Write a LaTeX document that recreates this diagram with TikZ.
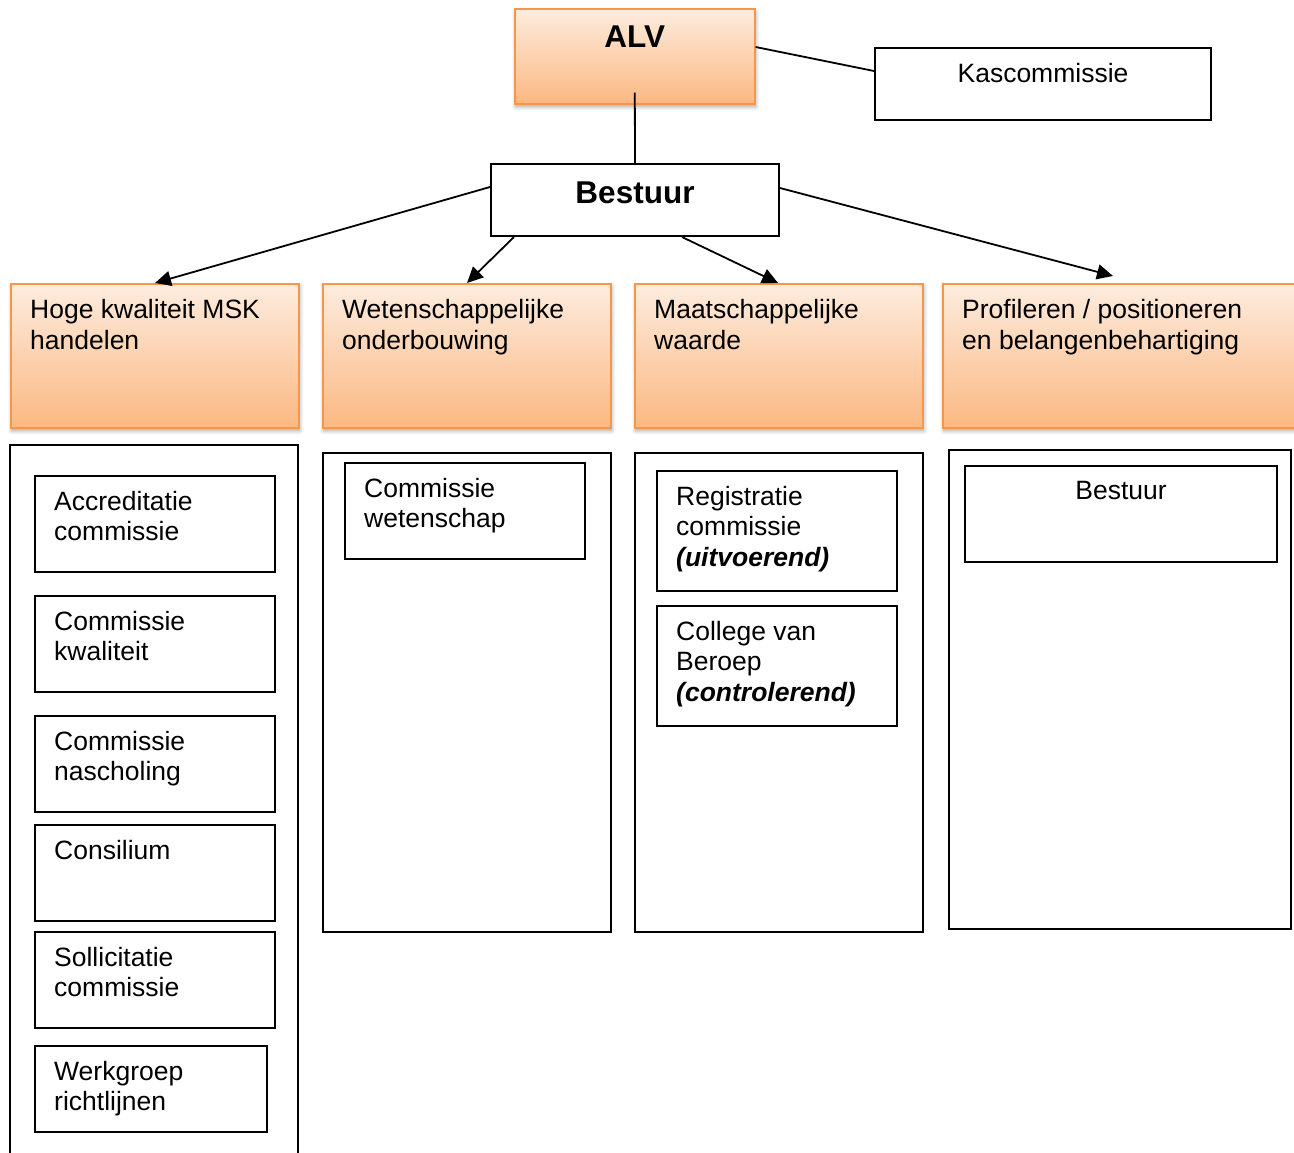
\documentclass[tikz,border=0pt]{standalone}
\usepackage{fontspec}
\setmainfont{Liberation Sans}
\usetikzlibrary{shadows,shadows.blur,calc,arrows.meta}
\definecolor{orTop}{RGB}{253,236,222}
\definecolor{orBot}{RGB}{251,184,130}
\definecolor{orLine}{RGB}{247,150,70}
\tikzset{
  x=1pt,y=-1pt,
  wbox/.style={draw=black,line width=2pt,fill=white,inner sep=0pt,anchor=north west},
  obox/.style={draw=orLine,line width=1.6pt,top color=orTop,bottom color=orBot,inner sep=0pt,anchor=north west,
     blur shadow={shadow xshift=1pt,shadow yshift=-3pt,shadow opacity=35,shadow blur radius=4pt,shadow blur steps=8}},
  txt/.style={font=\fontsize{26.5}{30.5}\selectfont,align=left,inner sep=0pt,anchor=north west},
  otxt/.style={txt,font=\fontsize{26.5}{31}\selectfont},
  ctxt/.style={font=\fontsize{26.5}{30.5}\selectfont,align=center,inner sep=0pt,anchor=north},
  btxt/.style={font=\fontsize{31.5}{36}\selectfont\bfseries,inner sep=0pt,anchor=north},
  conn/.style={line width=1.8pt},
  arr/.style={line width=1.8pt,-{Triangle[length=16pt,width=15pt]}}
}
\begin{document}
\begin{tikzpicture}
\useasboundingbox (0,0) rectangle (1294,1153);
% top level
\node[obox,minimum width=240,minimum height=95] (alv) at (514,8) {};
\node[btxt] (alvt) at ($(alv.north)+(0,18)$) {ALV};
\node[wbox,minimum width=336,minimum height=72] (kas) at (874,47) {};
\node[ctxt] (kast) at ($(kas.north)+(0,16)$) {Kascommissie};
\node[wbox,minimum width=288,minimum height=72] (best) at (490,163) {};
\node[btxt] (bestt) at ($(best.north)+(0,19)$) {Bestuur};
% orange domain boxes
\node[obox,minimum width=288,minimum height=144] (d1) at (10,283) {};
\node[obox,minimum width=288,minimum height=144] (d2) at (322,283) {};
\node[obox,minimum width=288,minimum height=144] (d3) at (634,283) {};
\node[obox,minimum width=360,minimum height=144] (d4) at (942,283) {};
\node[otxt] (d1t) at ($(d1.north west)+(20,16)$) {Hoge kwaliteit MSK\\handelen};
\node[otxt] (d2t) at ($(d2.north west)+(20,16)$) {Wetenschappelijke\\onderbouwing};
\node[otxt] (d3t) at ($(d3.north west)+(20,16)$) {Maatschappelijke\\waarde};
\node[otxt] (d4t) at ($(d4.north west)+(20,16)$) {Profileren / positioneren\\en belangenbehartiging};
% connectors
\coordinate (alvin) at ($(alv.south)+(0,-12)$);
\draw[conn] (alvin) -- (best.north);
\coordinate (alvr) at ($(alv.north east)+(0,39)$);
\coordinate (kasl) at ($(kas.north west)+(0,24)$);
\draw[conn] (alvr) -- (kasl);
\coordinate (b1) at ($(best.north west)+(0,24)$);
\coordinate (b2) at ($(best.south west)+(24,0)$);
\coordinate (b3) at ($(best.south west)+(192,0)$);
\coordinate (b4) at ($(best.north east)+(0,25)$);
\coordinate (t1) at ($(d1.north west)+(145,0)$);
\coordinate (t2) at ($(d2.north west)+(145,0)$);
\coordinate (t3) at ($(d3.north west)+(144,0)$);
\coordinate (t4) at ($(d4.north west)+(171,-7)$);
\draw[arr] (b1) -- (t1);
\draw[arr] (b2) -- (t2);
\draw[arr] (b3) -- (t3);
\draw[arr] (b4) -- (t4);
% columns
\draw[line width=2pt] (10,1160) -- (10,445) -- (298,445) -- (298,1160);
\coordinate (c1) at (10,445);
\node[wbox,minimum width=288,minimum height=479] (c2) at (322,452) {};
\node[wbox,minimum width=288,minimum height=479] (c3) at (634,452) {};
\node[wbox,minimum width=342,minimum height=479] (c4) at (948,449) {};
% column 1 boxes
\node[wbox,minimum width=240,minimum height=96] (acc) at (34,475) {};
\node[txt] (acct) at ($(acc.north west)+(20,16)$) {Accreditatie\\commissie};
\node[wbox,minimum width=240,minimum height=96] (kwa) at (34,595) {};
\node[txt] (kwat) at ($(kwa.north west)+(20,16)$) {Commissie\\kwaliteit};
\node[wbox,minimum width=240,minimum height=96] (nas) at (34,715) {};
\node[txt] (nast) at ($(nas.north west)+(20,16)$) {Commissie\\nascholing};
\node[wbox,minimum width=240,minimum height=96] (con) at (34,824) {};
\node[txt] (cont) at ($(con.north west)+(20,16)$) {Consilium};
\node[wbox,minimum width=240,minimum height=96] (sol) at (34,931) {};
\node[txt] (solt) at ($(sol.north west)+(20,16)$) {Sollicitatie\\commissie};
\node[wbox,minimum width=232,minimum height=86] (wer) at (34,1045) {};
\node[txt] (wert) at ($(wer.north west)+(20,16)$) {Werkgroep\\richtlijnen};
% column 2
\node[wbox,minimum width=240,minimum height=96] (wet) at (344,462) {};
\node[txt] (wett) at ($(wet.north west)+(20,16)$) {Commissie\\wetenschap};
% column 3
\node[wbox,minimum width=240,minimum height=120] (reg) at (656,470) {};
\node[txt] (regt) at ($(reg.north west)+(20,16)$) {Registratie\\commissie\\\textbf{\textit{(uitvoerend)}}};
\node[wbox,minimum width=240,minimum height=120] (col) at (656,605) {};
\node[txt] (colt) at ($(col.north west)+(20,16)$) {College van\\Beroep\\\textbf{\textit{(controlerend)}}};
% column 4
\node[wbox,minimum width=312,minimum height=96] (b4box) at (964,465) {};
\node[ctxt] (b4t) at ($(b4box.north)+(0,16)$) {Bestuur};
\end{tikzpicture}
\end{document}
